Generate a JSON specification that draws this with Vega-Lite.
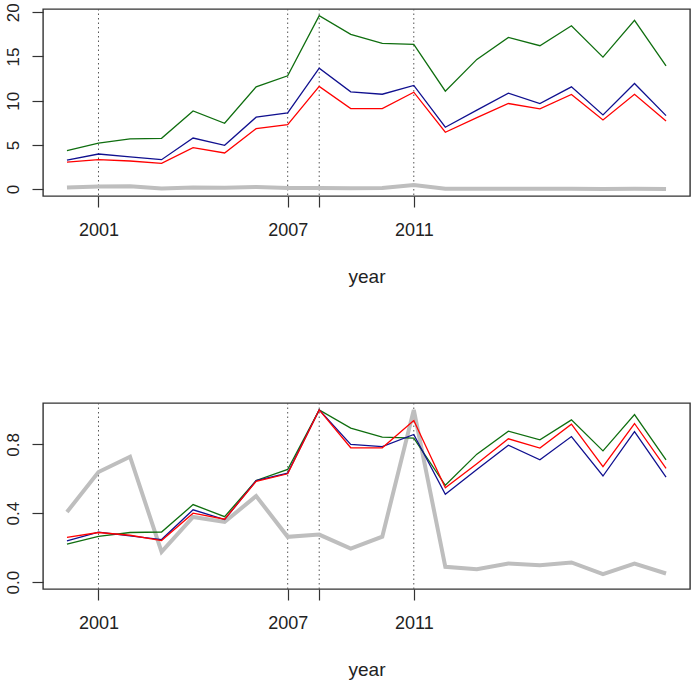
{
  "$schema": "https://vega.github.io/schema/vega-lite/v6.json",
  "padding": {"left": 3, "top": 2, "right": 4, "bottom": 4},
  "bounds": "flush",
  "spacing": 207,
  "background": "white",
  "datasets": {
    "marks": [{"year": 2001}, {"year": 2007}, {"year": 2008}, {"year": 2011}],
    "series": [
      {"panel": "abs", "series": "grey", "year": 2000, "value": 0.18},
      {"panel": "abs", "series": "grey", "year": 2001, "value": 0.29},
      {"panel": "abs", "series": "grey", "year": 2002, "value": 0.33},
      {"panel": "abs", "series": "grey", "year": 2003, "value": 0.08},
      {"panel": "abs", "series": "grey", "year": 2004, "value": 0.17},
      {"panel": "abs", "series": "grey", "year": 2005, "value": 0.16},
      {"panel": "abs", "series": "grey", "year": 2006, "value": 0.23},
      {"panel": "abs", "series": "grey", "year": 2007, "value": 0.12},
      {"panel": "abs", "series": "grey", "year": 2008, "value": 0.12},
      {"panel": "abs", "series": "grey", "year": 2009, "value": 0.09},
      {"panel": "abs", "series": "grey", "year": 2010, "value": 0.12},
      {"panel": "abs", "series": "grey", "year": 2011, "value": 0.45},
      {"panel": "abs", "series": "grey", "year": 2012, "value": 0.04},
      {"panel": "abs", "series": "grey", "year": 2013, "value": 0.03},
      {"panel": "abs", "series": "grey", "year": 2014, "value": 0.05},
      {"panel": "abs", "series": "grey", "year": 2015, "value": 0.04},
      {"panel": "abs", "series": "grey", "year": 2016, "value": 0.05},
      {"panel": "abs", "series": "grey", "year": 2017, "value": 0.02},
      {"panel": "abs", "series": "grey", "year": 2018, "value": 0.05},
      {"panel": "abs", "series": "grey", "year": 2019, "value": 0.02},
      {"panel": "abs", "series": "green", "year": 2000, "value": 4.35},
      {"panel": "abs", "series": "green", "year": 2001, "value": 5.21},
      {"panel": "abs", "series": "green", "year": 2002, "value": 5.67},
      {"panel": "abs", "series": "green", "year": 2003, "value": 5.74},
      {"panel": "abs", "series": "green", "year": 2004, "value": 8.84},
      {"panel": "abs", "series": "green", "year": 2005, "value": 7.45},
      {"panel": "abs", "series": "green", "year": 2006, "value": 11.57},
      {"panel": "abs", "series": "green", "year": 2007, "value": 12.81},
      {"panel": "abs", "series": "green", "year": 2008, "value": 19.62},
      {"panel": "abs", "series": "green", "year": 2009, "value": 17.5},
      {"panel": "abs", "series": "green", "year": 2010, "value": 16.48},
      {"panel": "abs", "series": "green", "year": 2011, "value": 16.36},
      {"panel": "abs", "series": "green", "year": 2012, "value": 11.08},
      {"panel": "abs", "series": "green", "year": 2013, "value": 14.67},
      {"panel": "abs", "series": "green", "year": 2014, "value": 17.16},
      {"panel": "abs", "series": "green", "year": 2015, "value": 16.22},
      {"panel": "abs", "series": "green", "year": 2016, "value": 18.48},
      {"panel": "abs", "series": "green", "year": 2017, "value": 14.93},
      {"panel": "abs", "series": "green", "year": 2018, "value": 19.09},
      {"panel": "abs", "series": "green", "year": 2019, "value": 13.95},
      {"panel": "abs", "series": "blue", "year": 2000, "value": 3.29},
      {"panel": "abs", "series": "blue", "year": 2001, "value": 3.97},
      {"panel": "abs", "series": "blue", "year": 2002, "value": 3.65},
      {"panel": "abs", "series": "blue", "year": 2003, "value": 3.33},
      {"panel": "abs", "series": "blue", "year": 2004, "value": 5.78},
      {"panel": "abs", "series": "blue", "year": 2005, "value": 4.95},
      {"panel": "abs", "series": "blue", "year": 2006, "value": 8.13},
      {"panel": "abs", "series": "blue", "year": 2007, "value": 8.62},
      {"panel": "abs", "series": "blue", "year": 2008, "value": 13.68},
      {"panel": "abs", "series": "blue", "year": 2009, "value": 11.0},
      {"panel": "abs", "series": "blue", "year": 2010, "value": 10.73},
      {"panel": "abs", "series": "blue", "year": 2011, "value": 11.72},
      {"panel": "abs", "series": "blue", "year": 2012, "value": 7.0},
      {"panel": "abs", "series": "blue", "year": 2013, "value": 8.93},
      {"panel": "abs", "series": "blue", "year": 2014, "value": 10.85},
      {"panel": "abs", "series": "blue", "year": 2015, "value": 9.68},
      {"panel": "abs", "series": "blue", "year": 2016, "value": 11.57},
      {"panel": "abs", "series": "blue", "year": 2017, "value": 8.39},
      {"panel": "abs", "series": "blue", "year": 2018, "value": 11.95},
      {"panel": "abs", "series": "blue", "year": 2019, "value": 8.31},
      {"panel": "abs", "series": "red", "year": 2000, "value": 3.06},
      {"panel": "abs", "series": "red", "year": 2001, "value": 3.33},
      {"panel": "abs", "series": "red", "year": 2002, "value": 3.18},
      {"panel": "abs", "series": "red", "year": 2003, "value": 2.91},
      {"panel": "abs", "series": "red", "year": 2004, "value": 4.69},
      {"panel": "abs", "series": "red", "year": 2005, "value": 4.09},
      {"panel": "abs", "series": "red", "year": 2006, "value": 6.84},
      {"panel": "abs", "series": "red", "year": 2007, "value": 7.3},
      {"panel": "abs", "series": "red", "year": 2008, "value": 11.61},
      {"panel": "abs", "series": "red", "year": 2009, "value": 9.11},
      {"panel": "abs", "series": "red", "year": 2010, "value": 9.11},
      {"panel": "abs", "series": "red", "year": 2011, "value": 10.96},
      {"panel": "abs", "series": "red", "year": 2012, "value": 6.43},
      {"panel": "abs", "series": "red", "year": 2013, "value": 8.09},
      {"panel": "abs", "series": "red", "year": 2014, "value": 9.68},
      {"panel": "abs", "series": "red", "year": 2015, "value": 9.07},
      {"panel": "abs", "series": "red", "year": 2016, "value": 10.7},
      {"panel": "abs", "series": "red", "year": 2017, "value": 7.82},
      {"panel": "abs", "series": "red", "year": 2018, "value": 10.73},
      {"panel": "abs", "series": "red", "year": 2019, "value": 7.71},
      {"panel": "rel", "series": "grey", "year": 2000, "value": 0.407},
      {"panel": "rel", "series": "grey", "year": 2001, "value": 0.639},
      {"panel": "rel", "series": "grey", "year": 2002, "value": 0.728},
      {"panel": "rel", "series": "grey", "year": 2003, "value": 0.176},
      {"panel": "rel", "series": "grey", "year": 2004, "value": 0.378},
      {"panel": "rel", "series": "grey", "year": 2005, "value": 0.349},
      {"panel": "rel", "series": "grey", "year": 2006, "value": 0.5},
      {"panel": "rel", "series": "grey", "year": 2007, "value": 0.263},
      {"panel": "rel", "series": "grey", "year": 2008, "value": 0.276},
      {"panel": "rel", "series": "grey", "year": 2009, "value": 0.195},
      {"panel": "rel", "series": "grey", "year": 2010, "value": 0.264},
      {"panel": "rel", "series": "grey", "year": 2011, "value": 1.0},
      {"panel": "rel", "series": "grey", "year": 2012, "value": 0.089},
      {"panel": "rel", "series": "grey", "year": 2013, "value": 0.075},
      {"panel": "rel", "series": "grey", "year": 2014, "value": 0.108},
      {"panel": "rel", "series": "grey", "year": 2015, "value": 0.098},
      {"panel": "rel", "series": "grey", "year": 2016, "value": 0.114},
      {"panel": "rel", "series": "grey", "year": 2017, "value": 0.046},
      {"panel": "rel", "series": "grey", "year": 2018, "value": 0.108},
      {"panel": "rel", "series": "grey", "year": 2019, "value": 0.05},
      {"panel": "rel", "series": "green", "year": 2000, "value": 0.22},
      {"panel": "rel", "series": "green", "year": 2001, "value": 0.266},
      {"panel": "rel", "series": "green", "year": 2002, "value": 0.288},
      {"panel": "rel", "series": "green", "year": 2003, "value": 0.291},
      {"panel": "rel", "series": "green", "year": 2004, "value": 0.45},
      {"panel": "rel", "series": "green", "year": 2005, "value": 0.38},
      {"panel": "rel", "series": "green", "year": 2006, "value": 0.59},
      {"panel": "rel", "series": "green", "year": 2007, "value": 0.654},
      {"panel": "rel", "series": "green", "year": 2008, "value": 1.0},
      {"panel": "rel", "series": "green", "year": 2009, "value": 0.894},
      {"panel": "rel", "series": "green", "year": 2010, "value": 0.842},
      {"panel": "rel", "series": "green", "year": 2011, "value": 0.836},
      {"panel": "rel", "series": "green", "year": 2012, "value": 0.562},
      {"panel": "rel", "series": "green", "year": 2013, "value": 0.743},
      {"panel": "rel", "series": "green", "year": 2014, "value": 0.876},
      {"panel": "rel", "series": "green", "year": 2015, "value": 0.826},
      {"panel": "rel", "series": "green", "year": 2016, "value": 0.942},
      {"panel": "rel", "series": "green", "year": 2017, "value": 0.762},
      {"panel": "rel", "series": "green", "year": 2018, "value": 0.973},
      {"panel": "rel", "series": "green", "year": 2019, "value": 0.71},
      {"panel": "rel", "series": "blue", "year": 2000, "value": 0.239},
      {"panel": "rel", "series": "blue", "year": 2001, "value": 0.29},
      {"panel": "rel", "series": "blue", "year": 2002, "value": 0.268},
      {"panel": "rel", "series": "blue", "year": 2003, "value": 0.247},
      {"panel": "rel", "series": "blue", "year": 2004, "value": 0.42},
      {"panel": "rel", "series": "blue", "year": 2005, "value": 0.363},
      {"panel": "rel", "series": "blue", "year": 2006, "value": 0.589},
      {"panel": "rel", "series": "blue", "year": 2007, "value": 0.633},
      {"panel": "rel", "series": "blue", "year": 2008, "value": 1.0},
      {"panel": "rel", "series": "blue", "year": 2009, "value": 0.8},
      {"panel": "rel", "series": "blue", "year": 2010, "value": 0.787},
      {"panel": "rel", "series": "blue", "year": 2011, "value": 0.857},
      {"panel": "rel", "series": "blue", "year": 2012, "value": 0.51},
      {"panel": "rel", "series": "blue", "year": 2013, "value": 0.654},
      {"panel": "rel", "series": "blue", "year": 2014, "value": 0.795},
      {"panel": "rel", "series": "blue", "year": 2015, "value": 0.71},
      {"panel": "rel", "series": "blue", "year": 2016, "value": 0.845},
      {"panel": "rel", "series": "blue", "year": 2017, "value": 0.616},
      {"panel": "rel", "series": "blue", "year": 2018, "value": 0.874},
      {"panel": "rel", "series": "blue", "year": 2019, "value": 0.61},
      {"panel": "rel", "series": "red", "year": 2000, "value": 0.26},
      {"panel": "rel", "series": "red", "year": 2001, "value": 0.288},
      {"panel": "rel", "series": "red", "year": 2002, "value": 0.272},
      {"panel": "rel", "series": "red", "year": 2003, "value": 0.241},
      {"panel": "rel", "series": "red", "year": 2004, "value": 0.4},
      {"panel": "rel", "series": "red", "year": 2005, "value": 0.365},
      {"panel": "rel", "series": "red", "year": 2006, "value": 0.585},
      {"panel": "rel", "series": "red", "year": 2007, "value": 0.629},
      {"panel": "rel", "series": "red", "year": 2008, "value": 1.0},
      {"panel": "rel", "series": "red", "year": 2009, "value": 0.78},
      {"panel": "rel", "series": "red", "year": 2010, "value": 0.78},
      {"panel": "rel", "series": "red", "year": 2011, "value": 0.938},
      {"panel": "rel", "series": "red", "year": 2012, "value": 0.548},
      {"panel": "rel", "series": "red", "year": 2013, "value": 0.687},
      {"panel": "rel", "series": "red", "year": 2014, "value": 0.832},
      {"panel": "rel", "series": "red", "year": 2015, "value": 0.778},
      {"panel": "rel", "series": "red", "year": 2016, "value": 0.917},
      {"panel": "rel", "series": "red", "year": 2017, "value": 0.67},
      {"panel": "rel", "series": "red", "year": 2018, "value": 0.921},
      {"panel": "rel", "series": "red", "year": 2019, "value": 0.66}
    ]
  },
  "vconcat": [
    {
      "width": 647,
      "height": 187,
      "layer": [
        {
          "data": {"name": "marks"},
          "mark": {"type": "rule", "color": "#555555", "strokeWidth": 1, "strokeDash": [1.5, 3]},
          "encoding": {
            "x": {"field": "year", "type": "quantitative", "scale": {"domain": [1999.24, 2019.76], "nice": false, "zero": false},
              "axis": {"values": [2001, 2007, 2008, 2011], "format": "d", "labelExpr": "datum.value == 2008 ? '' : datum.label", "title": "year"}}
          }
        },
        {
          "data": {"name": "series"},
          "transform": [{"filter": "datum.panel == 'abs' && datum.series == 'grey'"}],
          "mark": {"type": "line", "color": "#bebebe", "strokeWidth": 4},
          "encoding": {
            "x": {"field": "year", "type": "quantitative"},
            "y": {"field": "value", "type": "quantitative", "scale": {"domain": [-0.78, 20.37], "nice": false, "zero": false},
              "axis": {"values": [0, 5, 10, 15, 20], "title": null}}
          }
        },
        {
          "data": {"name": "series"},
          "transform": [{"filter": "datum.panel == 'abs' && datum.series != 'grey'"}],
          "mark": {"type": "line", "strokeWidth": 1.3},
          "encoding": {
            "x": {"field": "year", "type": "quantitative"},
            "y": {"field": "value", "type": "quantitative"},
            "color": {"field": "series", "type": "nominal", "legend": null,
              "scale": {"domain": ["green", "blue", "red"], "range": ["#0f6e0f", "#10108f", "#ff0000"]}}
          }
        }
      ]
    },
    {
      "width": 647,
      "height": 186,
      "layer": [
        {
          "data": {"name": "marks"},
          "mark": {"type": "rule", "color": "#555555", "strokeWidth": 1, "strokeDash": [1.5, 3]},
          "encoding": {
            "x": {"field": "year", "type": "quantitative", "scale": {"domain": [1999.24, 2019.76], "nice": false, "zero": false},
              "axis": {"values": [2001, 2007, 2008, 2011], "format": "d", "labelExpr": "datum.value == 2008 ? '' : datum.label", "title": "year"}}
          }
        },
        {
          "data": {"name": "series"},
          "transform": [{"filter": "datum.panel == 'rel' && datum.series == 'grey'"}],
          "mark": {"type": "line", "color": "#bebebe", "strokeWidth": 4},
          "encoding": {
            "x": {"field": "year", "type": "quantitative"},
            "y": {"field": "value", "type": "quantitative", "scale": {"domain": [-0.04, 1.04], "nice": false, "zero": false},
              "axis": {"values": [0, 0.2, 0.4, 0.6, 0.8, 1.0], "format": ".1f", "labelExpr": "datum.value == 0 || datum.value == 0.4 || datum.value == 0.8 ? datum.label : ''", "title": null}}
          }
        },
        {
          "data": {"name": "series"},
          "transform": [{"filter": "datum.panel == 'rel' && datum.series != 'grey'"}],
          "mark": {"type": "line", "strokeWidth": 1.3},
          "encoding": {
            "x": {"field": "year", "type": "quantitative"},
            "y": {"field": "value", "type": "quantitative"},
            "color": {"field": "series", "type": "nominal", "legend": null,
              "scale": {"domain": ["green", "blue", "red"], "range": ["#0f6e0f", "#10108f", "#ff0000"]}}
          }
        }
      ]
    }
  ],
  "config": {
    "font": "Liberation Sans",
    "view": {"stroke": "#333333", "strokeWidth": 1.4},
    "axis": {
      "grid": false,
      "domain": false,
      "tickColor": "#333333",
      "tickSize": 11,
      "tickWidth": 1.2,
      "labelFont": "Liberation Sans",
      "labelFontSize": 17,
      "labelColor": "#222222",
      "labelOverlap": false,
      "labelFlush": false,
      "titleFont": "Liberation Sans",
      "titleFontSize": 19,
      "titleFontWeight": "normal",
      "titleColor": "#222222"
    },
    "axisX": {"labelFontSize": 18, "labelPadding": 14, "titlePadding": 28},
    "axisY": {"labelAngle": -90, "labelAlign": "center", "labelBaseline": "bottom", "labelPadding": 10}
  }
}
